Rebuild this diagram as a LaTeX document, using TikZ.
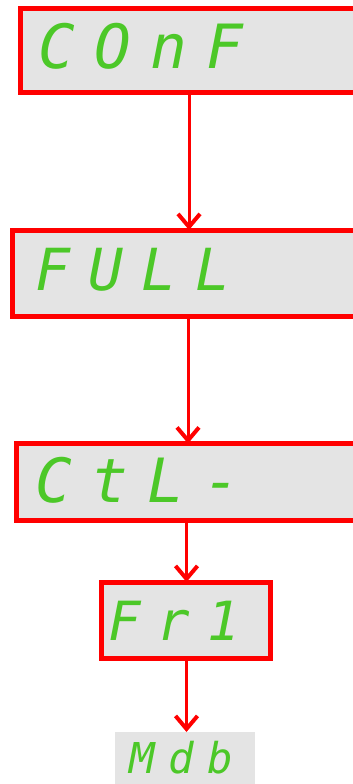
\documentclass[tikz,border=0pt]{standalone}
\usepackage{fontspec}
\usetikzlibrary{arrows.meta}
\newfontfamily\segfont[LetterSpace=32]{DejaVu Sans Mono Oblique}
\definecolor{segred}{RGB}{255,0,0}
\definecolor{seggreen}{RGB}{76,200,40}
\definecolor{seggray}{RGB}{228,228,228}
\begin{document}
\begin{tikzpicture}[x=1pt,y=-1pt,
  dispbox/.style={draw=segred,fill=seggray,line width=5pt,rectangle,anchor=north west,inner sep=0pt,outer sep=0pt},
  plainbox/.style={fill=seggray,rectangle,anchor=north west,inner sep=0pt,outer sep=0pt},
  disptext/.style={anchor=base west,inner sep=0pt,outer sep=0pt,text=seggreen},
  arr/.style={draw=segred,line width=3pt,-{Straight Barb[length=13pt,width=22pt,line width=4pt]}}]
\useasboundingbox (0,0) rectangle (353,784);
\begin{scope}
\clip (0,0) rectangle (353,784);
\node[dispbox,minimum width=360pt,minimum height=83pt] (b1) at (20.5,9) {};
\node[dispbox,minimum width=360pt,minimum height=86pt] (b2) at (12.5,230) {};
\node[dispbox,minimum width=360pt,minimum height=77pt] (b3) at (16,443.5) {};
\node[dispbox,minimum width=168.5pt,minimum height=76pt] (b4) at (101.5,582) {};
\node[plainbox,minimum width=140pt,minimum height=60pt] (b5) at (115,732) {};
\end{scope}
\node[disptext,font=\segfont\fontsize{61}{61}\selectfont] (t1) at (38,68) {COnF};
\node[disptext,font=\segfont\fontsize{58}{58}\selectfont] (t2) at (35,290) {FULL};
\node[disptext,font=\segfont\fontsize{61}{61}\selectfont] (t3) at (35,502) {CtL-};
\node[disptext,font=\segfont\fontsize{54}{54}\selectfont] (t4) at (108,640) {Fr1};
\node[disptext,font=\segfont\fontsize{42.5}{42.5}\selectfont] (t5) at (129,773) {Mdb};
\coordinate (c1) at (189,0);
\coordinate (c2) at (188,0);
\coordinate (c3) at (186.5,0);
\draw[arr] (c1 |- b1.south) -- (c1 |- b2.north);
\draw[arr] (c2 |- b2.south) -- (c2 |- b3.north);
\draw[arr] (c3 |- b3.south) -- (c3 |- b4.north);
\draw[arr] (c3 |- b4.south) -- (c3 |- b5.north);
\end{tikzpicture}
\end{document}
